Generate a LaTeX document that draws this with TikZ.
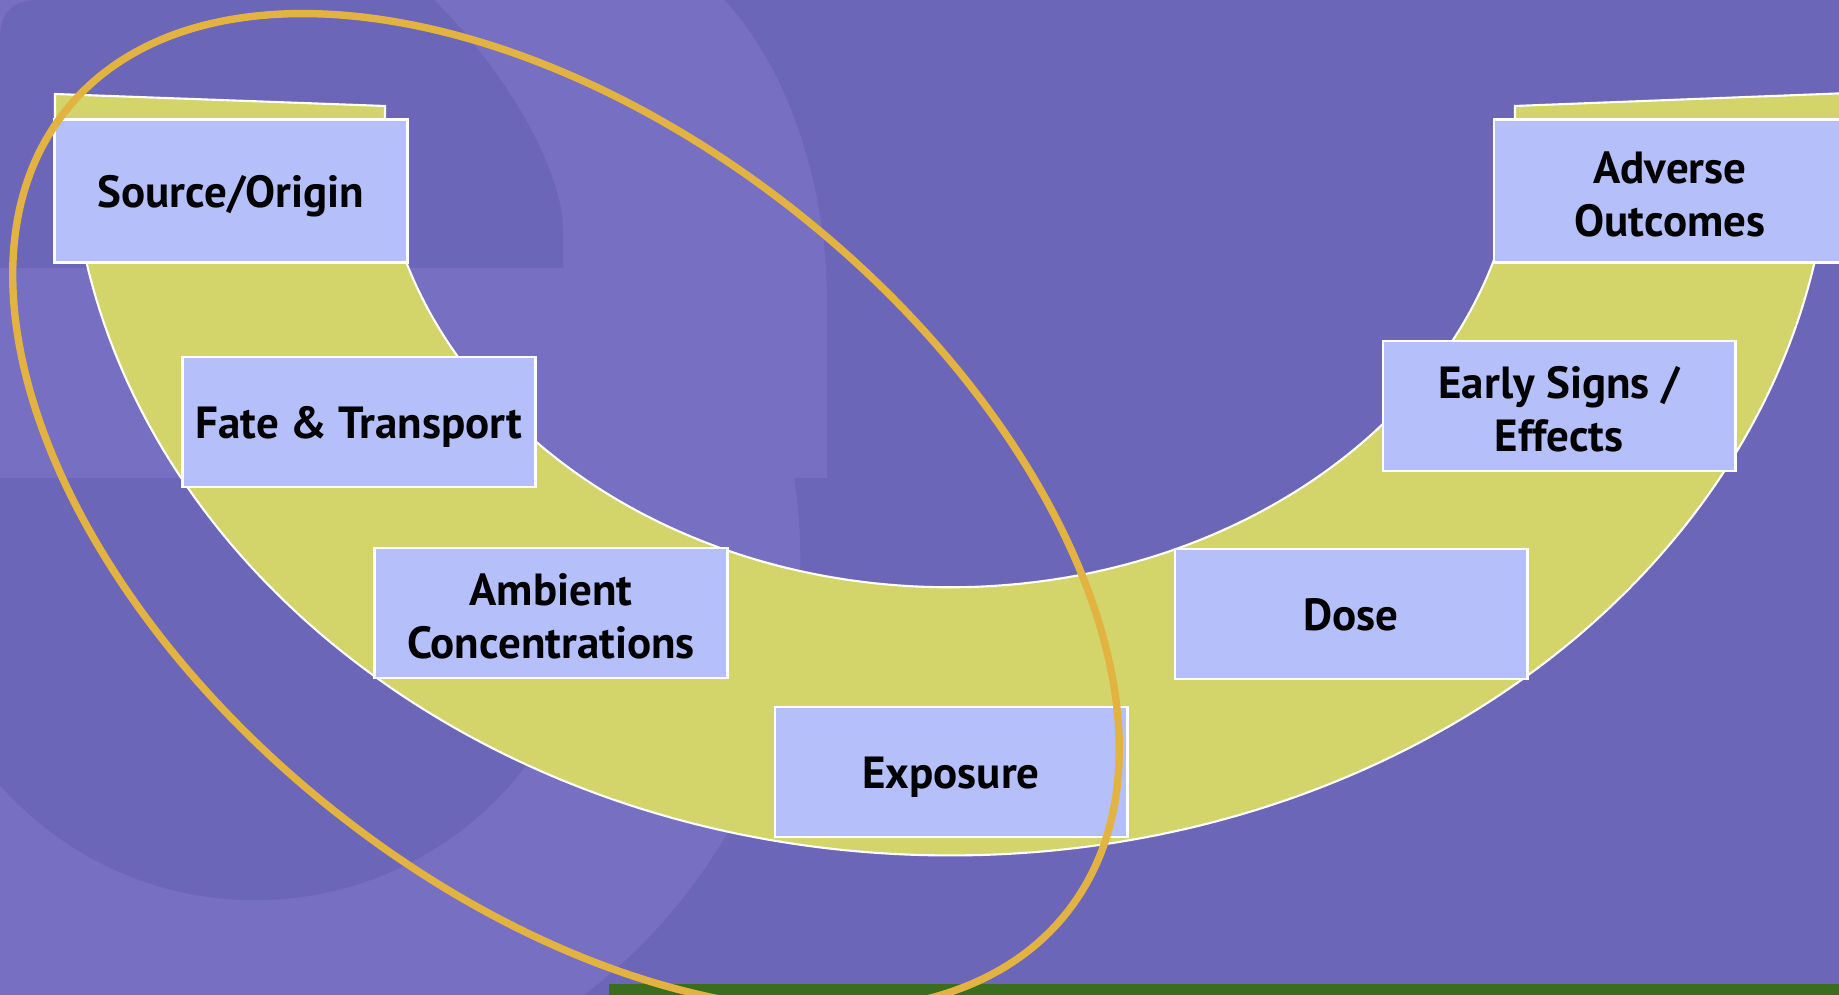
\documentclass[tikz,border=0pt]{standalone}
\usepackage{fontspec}
\setmainfont{PT Sans}
\usetikzlibrary{positioning}
\definecolor{bgbase}{HTML}{6C66B8}
\definecolor{bglight}{HTML}{766FC2}
\definecolor{bandyellow}{HTML}{D3D46A}
\definecolor{boxblue}{HTML}{B5BFFA}
\definecolor{ringorange}{HTML}{E3B342}
\definecolor{bargreen}{HTML}{3A6E1E}
\newcommand{\stagetext}[2][0.55mm]{\raisebox{-#1}[\height][\depth]{\begin{tabular}{@{}c@{}}#2\end{tabular}}}
\tikzset{
  stage_box/.style={rectangle, draw=white, fill=boxblue, line width=0.8pt, minimum width=3.52cm, minimum height=1.3cm, inner sep=2pt, align=center, font=\fontsize{12.8}{15}\selectfont\bfseries},
  stage_box_tall/.style={stage_box, minimum height=1.43cm},
  band/.style={fill=bandyellow, draw=white, line width=0.6pt},
  ring/.style={draw=ringorange, line width=2.1pt},
  bg_light/.style={fill=bglight},
  bg_dark/.style={fill=bgbase}
}

\begin{document}
\begin{tikzpicture}[x=0.01cm, y=-0.01cm]
  \useasboundingbox (0,0) rectangle (1839,995);
  \clip (0,0) rectangle (1839,995);

  % Background
  \path[bg_dark] (0,0) rectangle (1839,995);
  \path[bg_light] (255,560) circle [radius=5.45cm];
  \path[bg_dark] (255,560) circle [radius=3.4cm];
  \path[bg_light] (0,0) -- (724,0) .. controls (790,70) and (827,190) .. (827,300) -- (827,478) -- (0,478) -- cycle;
  \path[bg_dark] (0,40) .. controls (0,12) and (12,0) .. (40,0) -- (434,0) .. controls (505,70) and (563,170) .. (563,230) -- (563,268) -- (0,268) -- cycle;
  \fill[bargreen] (609,984) rectangle (1839,995);

  % Horseshoe band
  \path[band] (70,120) arc [start angle=180, end angle=360, x radius=8.8cm, y radius=7.35cm]
    -- (1520,120) arc [start angle=0, end angle=-180, x radius=5.7cm, y radius=4.67cm] -- cycle;
  \path[band] (55,120) -- (55,94) -- (385,106) -- (385,120) -- cycle;
  \path[band] (1515,120) -- (1515,106) -- (1850,93) -- (1850,120) -- cycle;

  % Stages
  \node (src) [stage_box_tall] at (231,191) {\stagetext{Source/Origin}};
  \node (fate) [stage_box] at (359,422) {\stagetext{Fate \& Transport}};
  \node (amb) [stage_box] at (551,613) {\stagetext[0.85mm]{Ambient\\Concentrations}};
  \node (expo) [stage_box] at (951,772) {\stagetext{Exposure}};
  \node (dose) [stage_box] at (1351,614) {\stagetext{Dose}};
  \node (early) [stage_box] at (1559,406) {\stagetext[0.85mm]{Early Signs /\\Effects}};
  \node (adv) [stage_box_tall] at (1670,191) {\stagetext[0.85mm]{Adverse\\Outcomes}};

  % Highlight ring
  \coordinate (ring_c) at (566,512);
  \draw[ring, rotate around={-38.8:(ring_c)}] (ring_c) ellipse [x radius=6.41cm, y radius=3.78cm];
\end{tikzpicture}
\end{document}
